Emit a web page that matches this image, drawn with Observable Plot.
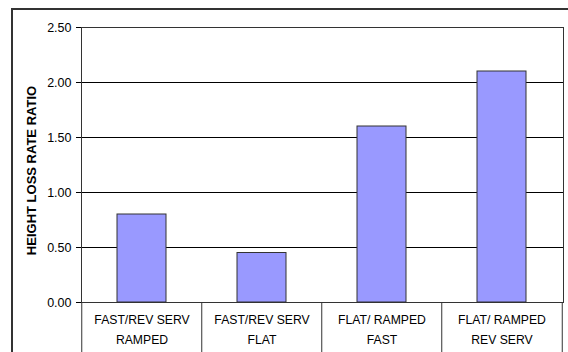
<!DOCTYPE html>
<html><head><meta charset="utf-8">
<script src="https://cdn.jsdelivr.net/npm/d3@7"></script>
<script src="https://cdn.jsdelivr.net/npm/@observablehq/plot@0.6"></script>
<style>
body{margin:0;background:#fff}
#wrap{position:relative;width:568px;height:352px;overflow:hidden;background:#fff}
#border{position:absolute;left:11px;top:8px;width:600px;height:400px;border:2px solid #333;pointer-events:none}
</style>
</head><body><div id="wrap"><div id="border"></div></div>
<script>
const line1 = ["FAST/REV SERV","FAST/REV SERV","FLAT/ RAMPED","FLAT/ RAMPED"];
const line2 = ["RAMPED","FLAT","FAST","REV SERV"];
const values = [0.80, 0.45, 1.60, 2.10];
const yTicks = [0, 0.5, 1, 1.5, 2, 2.5];
const yTitle = "HEIGHT LOSS RATE RATIO";

const cats = line1.map((d, i) => d + "\n" + line2[i]);
const data = cats.map((c, i) => ({cat: c, value: values[i]}));
const W = 568, H = 352, ML = 81, MR = 5, MT = 27, MB = 50;
const step = (W - ML - MR) / cats.length;

const plot = Plot.plot({
  width: W, height: H,
  marginLeft: ML, marginRight: MR, marginTop: MT, marginBottom: MB,
  style: {fontFamily: "'Liberation Sans', Arial, sans-serif", fontSize: "12px", background: "transparent", overflow: "visible", color: "#000"},
  x: {domain: cats, paddingInner: 0.59, paddingOuter: 0.295},
  y: {domain: [0, 2.5]},
  marks: [
    Plot.gridY(yTicks, {stroke: "#000", strokeOpacity: 1}),
    Plot.frame({stroke: "#333"}),
    Plot.barY(data, {x: "cat", y: "value", fill: "#9999FF", stroke: "#333", strokeWidth: 1}),
    Plot.axisY(yTicks, {tickFormat: d3.format(".2f"), tickSize: 5, tickPadding: 5, label: null, fontSize: 12.5, style: {letterSpacing: "0.8px"}}),
    Plot.axisX({tickSize: 0, tickPadding: 7, lineHeight: 1.67, label: null, fontSize: 12.2}),
    Plot.ruleX(cats, {x: d => d, dx: -step / 2, y1: 0, y2: -1, stroke: "#333"}),
    Plot.ruleX([cats[cats.length - 1]], {x: d => d, dx: step / 2, y1: 0, y2: -1, stroke: "#333"}),
    Plot.text([yTitle], {frameAnchor: "left", text: d => d, rotate: -90, dx: -50, dy: 5.5, textAnchor: "middle", fontWeight: "bold", fontSize: 13, fill: "#000"})
  ]
});
plot.style.position = "absolute";
plot.style.left = "0px";
plot.style.top = "0px";
document.getElementById("wrap").prepend(plot);
</script>
</body></html>
